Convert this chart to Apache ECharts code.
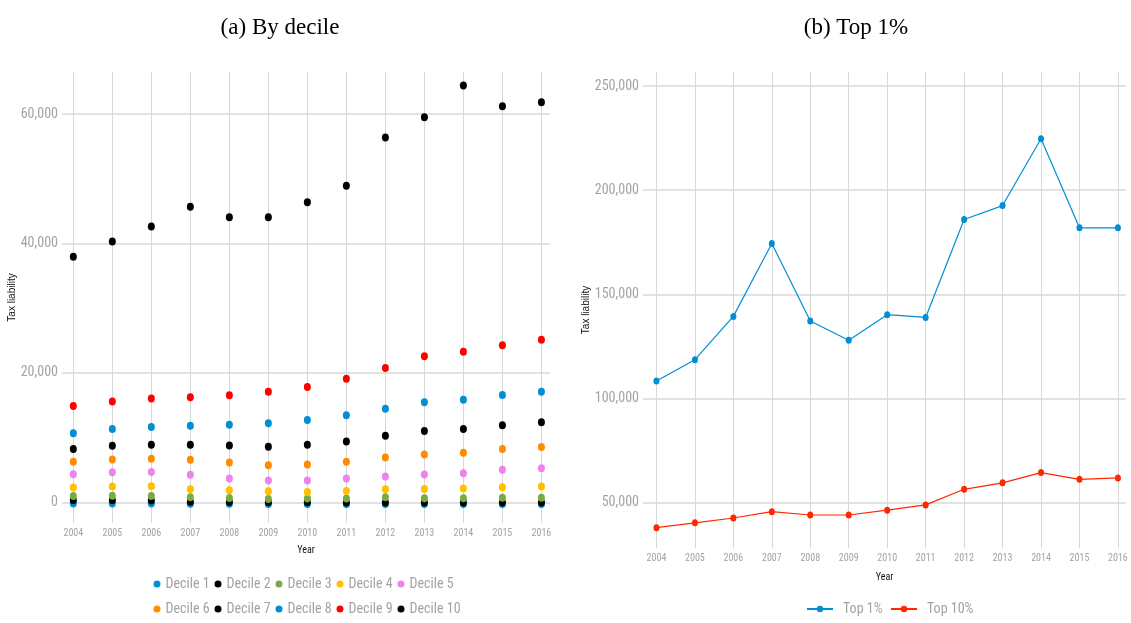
<!DOCTYPE html>
<html><head><meta charset="utf-8">
<script src="https://cdn.jsdelivr.net/npm/echarts@6/dist/echarts.min.js"></script>
<style>html,body{margin:0;padding:0;background:#fff}#c{width:1131px;height:623px}</style>
</head><body><div id="c"></div>
<script>
const years = [2004,2005,2006,2007,2008,2009,2010,2011,2012,2013,2014,2015,2016];
const decileNames = ['Decile 1','Decile 2','Decile 3','Decile 4','Decile 5','Decile 6','Decile 7','Decile 8','Decile 9','Decile 10'];
const decile1 = [-200,-200,-200,-220,-220,-250,-250,-250,-250,-250,-250,-250,-250];
const decile2 = [300,300,280,80,50,20,20,-50,-50,-50,-50,-50,-50];
const decile3 = [980,1030,980,780,670,520,570,570,780,620,620,720,720];
const decile4 = [2270,2430,2480,2020,1860,1710,1600,1760,2020,2070,2120,2330,2430];
const decile5 = [4340,4650,4700,4240,3670,3360,3360,3670,3980,4290,4500,5010,5270];
const decile6 = [6250,6610,6720,6560,6150,5740,5840,6250,6930,7390,7650,8220,8530];
const decile7 = [8220,8730,8890,8890,8780,8580,8890,9400,10280,11010,11320,11890,12350];
const decile8 = [10650,11320,11630,11830,11990,12200,12710,13440,14470,15450,15860,16590,17100];
const decile9 = [14880,15560,16020,16230,16540,17100,17830,19100,20770,22580,23250,24250,25100];
const decile10 = [37950,40300,42600,45650,44050,44050,46380,48900,56380,59480,64400,61180,61830];
const top1 = [108400,118600,139400,174400,137200,127900,140200,138900,185900,192600,224700,181900,181900];
const top10 = decile10;
const leftTicks = [0,20000,40000,60000];
const rightTicks = [50000,100000,150000,200000,250000];
const titles = ['(a) By decile','(b) Top 1%'];
const topNames = ['Top 1%','Top 10%'];

const decileData = [decile1,decile2,decile3,decile4,decile5,decile6,decile7,decile8,decile9,decile10];
const decileColors = ['#008FD5','#000000','#77AB43','#FFC000','#EE82EE','#FF8C00','#000000','#008FD5','#FF0000','#000000'];
const topColors = ['#008FD5','#FF2700'];

const COND = "'Liberation Sans Narrow','Arial Narrow','Roboto Condensed',sans-serif";
const SANS = "'Liberation Sans',Arial,sans-serif";
const grey = '#a3a3a3';
const fmt = v => v.toLocaleString('en-US');

function gridLines(yt){
  return {
    silent:true, symbol:'none', z:1, animation:false,
    label:{show:false}, emphasis:{disabled:true},
    data:[
      ...years.map(v=>({xAxis:v, lineStyle:{color:'#d8d8d8',width:1,type:'solid'}})),
      ...yt.map(v=>({yAxis:v, lineStyle:{color:'#d8d8d8',width:1.6,type:'solid'}}))
    ]
  };
}
function xAx(i,min,max,gap){
  return {type:'value',gridIndex:i,min:min,max:max,
    axisLine:{show:false},axisTick:{show:false},splitLine:{show:false},
    axisLabel:{customValues:years,formatter:v=>String(v),color:grey,fontFamily:COND,fontSize:10,margin:5},
    name:'Year',nameLocation:'middle',nameGap:gap,nameTextStyle:{color:'#111',fontFamily:COND,fontSize:10}};
}
function yAx(i,min,max,ticks,gap){
  return {type:'value',gridIndex:i,min:min,max:max,
    axisLine:{show:false},axisTick:{show:false},splitLine:{show:false},
    axisLabel:{customValues:ticks,formatter:fmt,color:grey,fontFamily:COND,fontSize:14,margin:4},
    name:'Tax liability',nameLocation:'middle',nameGap:gap,nameRotate:90,
    nameTextStyle:{color:'#111',fontFamily:SANS,fontSize:10}};
}

const series = [];
series.push({type:'scatter',xAxisIndex:0,yAxisIndex:0,data:[],z:1,markLine:gridLines(leftTicks)});
series.push({type:'scatter',xAxisIndex:1,yAxisIndex:1,data:[],z:1,markLine:gridLines(rightTicks)});
decileData.forEach((d,k)=>{
  series.push({type:'scatter',name:decileNames[k],xAxisIndex:0,yAxisIndex:0,z:3,
    symbol:'circle',symbolSize:[7,8],itemStyle:{color:decileColors[k],opacity:1},
    data:years.map((y,j)=>[y,d[j]])});
});
[top1,top10].forEach((d,k)=>{
  series.push({type:'line',name:topNames[k],xAxisIndex:1,yAxisIndex:1,z:3,
    symbol:'circle',symbolSize:[6,7],showSymbol:true,
    itemStyle:{color:topColors[k]},lineStyle:{color:topColors[k],width:1.2},
    data:years.map((y,j)=>[y,d[j]])});
});

const legends = [];
const rowX = [157,218,279,340,401];
decileNames.forEach((n,k)=>{
  const row = Math.floor(k/5), col = k%5;
  legends.push({data:[n],left:rowX[col]-3.5,top:(row?609:584)-8,padding:0,
    icon:'circle',itemWidth:7,itemHeight:7,selectedMode:false,
    textStyle:{color:grey,fontFamily:COND,fontSize:14,lineHeight:16}});
});
[806,890].forEach((x,k)=>{
  legends.push({data:[topNames[k]],left:x,top:609-8,padding:0,itemWidth:26,itemHeight:8,selectedMode:false,
    textStyle:{color:grey,fontFamily:COND,fontSize:14,lineHeight:16,padding:[0,0,0,5]}});
});

const option = {
  animation:false,
  backgroundColor:'#fff',
  title:[
    {text:titles[0],left:275,top:11,textAlign:'center',textStyle:{fontFamily:"'Liberation Serif','DejaVu Serif',serif",fontWeight:'normal',fontSize:23,color:'#000'}},
    {text:titles[1],left:851,top:11,textAlign:'center',textStyle:{fontFamily:"'Liberation Serif','DejaVu Serif',serif",fontWeight:'normal',fontSize:23,color:'#000'}}
  ],
  grid:[
    {left:62,top:72,width:488,height:451},
    {left:643,top:72,width:483,height:476}
  ],
  xAxis:[xAx(0,2003.71,2016.22,22),xAx(1,2003.65,2016.21,24)],
  yAxis:[yAx(0,-3200,66490,leftTicks,43),yAx(1,28200,256730,rightTicks,46)],
  legend:legends,
  series:series
};
echarts.init(document.getElementById('c'),null,{renderer:'canvas'}).setOption(option);
</script></body></html>
